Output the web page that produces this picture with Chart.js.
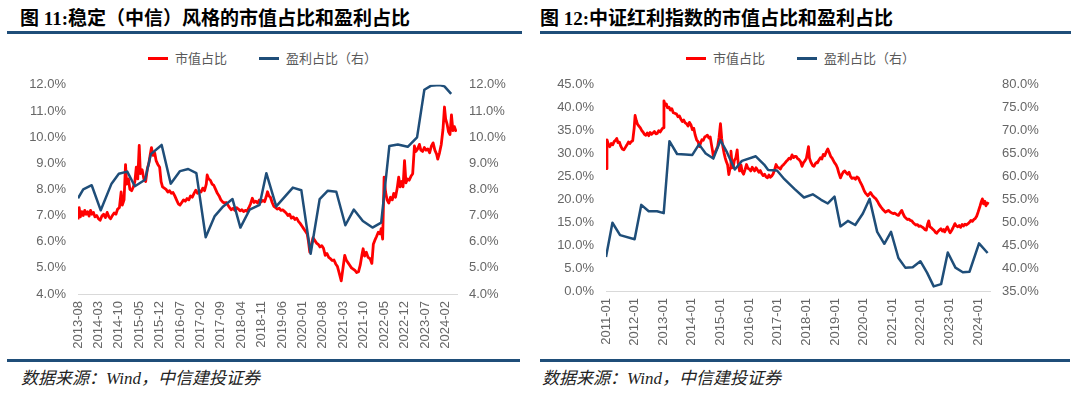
<!DOCTYPE html>
<html>
<head>
<meta charset="utf-8">
<script src="https://cdn.jsdelivr.net/npm/chart.js@4.4.1/dist/chart.umd.min.js"></script>
<style>
  body { margin: 0; width: 1080px; height: 396px; background: #fff; position: relative; overflow: hidden; }
  .title { position: absolute; top: 8px; font: bold 19px/22px "Liberation Serif", "Noto Sans CJK SC"; color: #000; white-space: nowrap; }
  .rule { position: absolute; height: 3px; background: #1f4e79; }
  .src { position: absolute; top: 369px; font: italic 17px/20px "Liberation Serif", "Noto Sans CJK SC"; color: #222; white-space: nowrap; }
  .legend { position: absolute; top: 49px; font: 13px/18px "Noto Sans CJK SC"; color: #595959; display: flex; align-items: center; white-space: nowrap; }
  .legend i { display: inline-block; width: 20px; height: 3px; margin-right: 7px; }
  .legend span { margin-right: 32px; }
  canvas { position: absolute; }
</style>
</head>
<body>
<div class="title" style="left:20px">图 11:稳定（中信）风格的市值占比和盈利占比</div>
<div class="title" style="left:540px">图 12:中证红利指数的市值占比和盈利占比</div>
<div class="rule" style="left:7px;width:515px;top:31px"></div>
<div class="rule" style="left:540px;width:531px;top:31px"></div>

<div class="legend" id="legL" style="left:148px"></div>
<div class="legend" id="legR" style="left:686px"></div>

<canvas id="cL" width="530" height="289" style="left:0;top:65px"></canvas>
<canvas id="cR" width="540" height="286" style="left:540px;top:65px"></canvas>

<div class="rule" style="left:7px;width:513px;top:359px"></div>
<div class="rule" style="left:540px;width:530px;top:359px"></div>
<div class="src" style="left:21px">数据来源：Wind，中信建投证券</div>
<div class="src" style="left:542px">数据来源：Wind，中信建投证券</div>

<script>
// ---- data: x = months since first tick label ----
const seriesNames = ["市值占比", "盈利占比（右）"];

const leftTickLabels = ["2013-08", "2014-03", "2014-10", "2015-05", "2015-12", "2016-07", "2017-02",
  "2017-09", "2018-04", "2018-11", "2019-06", "2020-01", "2020-08", "2021-03", "2021-10", "2022-05",
  "2022-12", "2023-07", "2024-02"];
const leftTickStep = 7;

const rightTickLabels = ["2011-01", "2012-01", "2013-01", "2014-01", "2015-01", "2016-01", "2017-01",
  "2018-01", "2019-01", "2020-01", "2021-01", "2022-01", "2023-01", "2024-01"];
const rightTickStep = 12;

// 稳定（中信）市值占比, %
const leftCap = [
  [0,6.85],[0.4,7.3],[0.8,6.95],[1.3,7.15],[1.8,7.0],[2.3,7.2],[2.8,7.05],[3.3,7.15],[3.8,6.98],[4.3,7.2],
  [4.8,7.05],[5.3,7.12],[5.8,6.95],[6.4,7.0],[7.0,6.88],[7.6,6.82],[8.2,6.98],[8.8,7.05],[9.4,6.92],[10.0,7.12],
  [10.6,6.95],[11.2,6.88],[11.8,7.0],[12.4,7.1],[13.0,7.05],[13.6,7.25],[14.2,7.3],[14.8,7.9],[15.2,7.4],[15.8,7.6],
  [16.3,8.95],[16.7,8.2],[17.3,8.4],[17.8,8.0],[18.4,7.95],[19.0,8.1],[19.5,8.3],[20.0,8.85],[20.5,8.4],[21.0,9.68],
  [21.4,8.6],[22.0,8.75],[22.6,8.4],[23.2,8.3],[23.8,8.8],[24.3,9.0],[24.8,9.35],[25.2,9.6],[25.7,9.3],[26.3,9.4],
  [26.8,9.1],[27.4,8.95],[28.0,8.85],[28.5,8.3],[29.0,8.1],[29.6,8.05],[30.2,8.0],[30.8,7.9],[31.4,7.95],[32.0,7.85],
  [32.6,7.88],[33.2,7.75],[33.8,7.6],[34.4,7.45],[35.0,7.4],[35.6,7.5],[36.2,7.6],[36.8,7.55],[37.4,7.65],[38.0,7.6],
  [38.6,7.75],[39.2,7.7],[39.8,7.85],[40.4,7.97],[41.0,7.85],[41.6,7.95],[42.2,7.9],[42.8,8.05],[43.4,7.95],[44.0,8.2],
  [44.3,8.55],[44.8,8.4],[45.4,8.35],[46.0,8.2],[46.6,8.15],[47.2,8.0],[47.8,7.85],[48.4,7.75],[49.0,7.6],[49.6,7.52],
  [50.2,7.48],[50.8,7.5],[51.4,7.4],[52.0,7.3],[52.6,7.22],[53.2,7.28],[53.8,7.2],[54.4,7.3],[55.0,7.25],[55.6,7.18],
  [56.2,7.22],[56.8,7.15],[57.4,7.2],[58.0,7.16],[58.6,7.3],[59.2,7.45],[59.8,7.66],[60.4,7.5],[61.0,7.55],[61.6,7.48],
  [62.2,7.6],[62.8,7.52],[63.4,7.58],[64.0,7.53],[64.5,7.7],[65.0,7.91],[65.5,7.75],[66.0,7.7],[66.6,7.5],[67.2,7.35],
  [67.8,7.3],[68.4,7.25],[69.0,7.28],[69.6,7.2],[70.2,7.22],[70.8,7.16],[71.4,7.1],[72.0,7.0],[72.6,7.05],[73.2,6.9],
  [73.8,6.95],[74.4,6.85],[75.0,6.9],[75.6,6.78],[76.2,6.7],[76.8,6.6],[77.4,6.5],[78.0,6.4],[78.6,6.3],[79.0,6.05],
  [79.5,5.6],[80.0,5.85],[80.6,6.15],[81.2,6.05],[81.8,5.95],[82.4,5.9],[83.0,5.8],[83.6,5.85],[84.2,5.75],[84.8,5.48],
  [85.4,5.55],[86.0,5.4],[86.6,5.35],[87.2,5.28],[87.8,5.3],[88.4,5.15],[89.0,5.05],[89.6,4.8],[90.3,4.5],[90.9,5.0],
  [91.5,5.48],[92.0,5.3],[92.6,5.2],[93.2,5.1],[93.8,5.0],[94.4,4.95],[95.0,4.9],[95.6,4.82],[96.2,4.85],[96.8,5.1],
  [97.4,5.5],[97.8,5.73],[98.3,5.45],[98.9,5.6],[99.5,5.4],[100.2,5.35],[100.8,5.17],[101.3,5.9],[101.8,6.05],[102.4,6.2],
  [103.0,6.36],[103.6,6.3],[104.0,6.5],[104.5,6.1],[105.0,8.47],[105.5,7.9],[106.0,7.6],[106.6,7.48],[107.2,7.7],[107.8,7.6],
  [108.3,7.85],[108.9,7.7],[109.5,8.05],[110.0,8.47],[110.5,8.1],[111.0,8.3],[111.5,8.1],[112.0,9.1],[112.5,8.25],[113.0,8.4],
  [113.6,8.35],[114.2,8.5],[114.8,8.6],[115.4,9.66],[115.9,9.45],[116.5,9.55],[117.1,9.72],[117.6,9.5],[118.2,9.45],[118.8,9.6],
  [119.4,9.5],[120.0,9.55],[120.6,9.4],[121.2,9.65],[121.8,9.78],[122.4,9.5],[123.0,9.35],[123.4,9.16],[124.0,9.4],[124.6,9.72],
  [125.2,10.3],[125.7,11.15],[126.1,10.7],[126.6,10.5],[127.1,10.2],[127.6,10.1],[128.1,10.85],[128.6,10.25],[129.1,10.4],[129.7,10.2]
];

// 稳定（中信）盈利占比, %
const leftProfit = [
  [0,7.66],[1.8,8.0],[4.7,8.16],[7.8,7.2],[11.5,8.22],[14,8.6],[16.9,8.68],[19.5,8.12],[23,8.37],[25,9.35],
  [28.7,9.7],[31.8,8.22],[35,8.7],[37.8,8.78],[40.6,8.62],[43.8,6.17],[46.9,6.98],[49.8,7.35],[53,7.63],[55.7,6.54],
  [58.9,7.23],[62.3,7.41],[64.6,8.62],[68,7.35],[73.7,8.07],[76.6,7.97],[79.8,5.54],[82.9,7.63],[85.7,7.95],[88.6,7.91],
  [91.7,6.63],[94.6,7.23],[97.7,6.79],[101,6.54],[104,6.73],[106.8,9.66],[109.7,9.72],[113.1,9.63],[116.3,9.99],[118.8,11.81],
  [121,11.96],[124,11.99],[125.7,11.94],[128,11.65]
];

// 中证红利 市值占比, %
const rightCap = [
  [0,26.7],[0.4,33.0],[1.0,32.0],[1.6,31.5],[2.2,32.2],[2.8,31.9],[3.4,32.6],[4.0,32.9],[4.5,33.3],[5.0,32.4],
  [5.6,32.5],[6.2,31.6],[6.8,31.0],[7.5,30.8],[8.2,31.4],[8.8,31.9],[9.4,32.5],[10.0,32.2],[10.6,32.6],[11.2,32.8],
  [11.8,35.5],[12.2,38.3],[12.7,37.2],[13.2,36.4],[13.8,36.0],[14.4,35.6],[15.0,35.0],[15.5,34.7],[16.1,34.2],[16.7,34.0],
  [17.3,34.5],[17.9,33.9],[18.5,34.6],[19.1,34.2],[19.7,34.5],[20.3,34.8],[20.9,34.3],[21.5,34.4],[22.1,35.0],[22.7,34.7],
  [23.3,35.2],[23.9,35.6],[24.3,41.5],[24.8,40.5],[25.3,40.8],[25.8,40.0],[26.4,40.1],[27.0,39.5],[27.6,39.8],[28.2,38.9],
  [28.8,38.8],[29.6,38.6],[30.2,38.0],[30.8,38.2],[31.4,37.5],[32.0,37.0],[32.6,37.3],[33.2,36.7],[33.8,36.5],[34.4,36.0],
  [35.0,36.8],[35.6,36.3],[36.2,35.2],[36.8,35.5],[37.4,34.0],[38.0,33.0],[38.6,32.6],[39.2,31.5],[39.6,32.2],[40.2,33.0],
  [40.8,32.9],[41.4,33.6],[42.0,33.8],[42.5,34.0],[43.1,33.4],[43.7,33.6],[44.2,32.0],[44.6,30.8],[45.0,29.4],[45.6,30.2],
  [46.2,30.8],[46.8,31.5],[47.4,33.5],[48.0,36.5],[48.5,33.3],[49.0,31.5],[49.5,30.1],[50.0,29.0],[50.4,28.3],[51.0,27.5],
  [51.5,25.4],[52.0,26.8],[52.4,30.5],[52.8,28.0],[53.3,26.9],[53.8,28.5],[54.4,29.0],[55.0,30.8],[55.4,28.0],[56.0,26.2],
  [56.6,27.5],[57.1,26.0],[57.7,25.5],[58.3,26.5],[58.9,27.6],[59.5,26.8],[60.1,26.6],[60.7,26.2],[61.3,27.0],[61.9,26.5],
  [62.3,26.2],[62.9,26.9],[63.5,26.4],[64.1,25.9],[64.7,26.3],[65.3,25.6],[65.9,25.2],[66.5,25.5],[67.1,24.9],[67.7,24.7],
  [68.3,25.3],[68.9,24.8],[69.5,25.1],[70.1,25.6],[70.7,26.5],[71.3,27.6],[71.9,27.0],[72.5,26.9],[73.1,26.6],[73.7,27.2],
  [74.3,27.5],[75.0,27.9],[75.6,28.3],[76.2,28.6],[76.8,29.0],[77.4,28.8],[78.0,29.7],[78.6,29.1],[79.2,29.4],[79.7,29.4],
  [80.3,28.9],[80.9,28.7],[81.6,28.2],[82.2,27.2],[82.8,28.0],[83.4,28.4],[84.0,28.9],[84.9,31.5],[85.3,29.0],[86.0,28.0],
  [86.6,27.4],[87.2,27.2],[87.8,27.8],[88.4,28.1],[88.7,28.0],[89.3,28.6],[89.9,29.1],[90.5,28.8],[91.1,29.8],[91.7,29.5],
  [92.3,30.3],[93.0,31.0],[93.6,30.2],[94.2,29.4],[94.8,29.0],[95.4,28.4],[95.8,28.0],[96.4,27.6],[97.0,26.9],[97.6,25.8],
  [98.3,24.7],[98.9,25.4],[99.5,26.0],[100.1,26.2],[100.7,25.8],[101.3,25.5],[101.9,25.9],[102.5,25.0],[103.1,24.6],[104.0,24.7],
  [104.6,24.4],[105.2,24.9],[105.8,24.7],[106.4,24.0],[107.0,23.4],[107.7,22.6],[108.3,21.8],[108.9,21.3],[109.8,20.8],[110.4,21.2],
  [110.9,21.5],[111.5,21.0],[112.1,20.6],[112.7,20.3],[113.2,20.1],[113.8,19.6],[114.5,18.9],[115.3,18.3],[115.9,17.9],[116.6,17.5],
  [117.2,17.2],[117.8,17.4],[118.4,17.6],[119.0,17.3],[119.6,17.1],[120.4,16.9],[121.0,17.0],[121.8,16.7],[122.6,16.5],[123.2,17.0],
  [124.0,17.6],[124.6,16.8],[125.2,16.2],[125.8,15.9],[126.4,15.6],[127.0,15.7],[127.6,15.4],[128.2,15.3],[128.8,14.9],[129.4,14.6],
  [130.0,14.4],[130.6,14.5],[131.2,14.1],[131.8,14.2],[132.4,14.0],[133.0,13.8],[133.7,13.4],[134.3,13.3],[134.9,14.7],[135.3,15.3],
  [135.8,14.0],[136.4,13.8],[137.0,13.5],[137.6,13.2],[138.1,12.8],[138.6,12.6],[139.2,13.0],[139.8,13.3],[140.4,13.6],[141.0,13.1],
  [141.6,13.4],[142.0,12.9],[142.6,13.5],[143.1,14.0],[143.7,13.3],[144.3,12.7],[144.9,13.2],[145.5,13.8],[146.3,14.7],[146.9,14.2],
  [147.5,14.0],[148.1,14.3],[148.7,13.9],[149.3,14.5],[149.9,14.2],[150.5,14.6],[151.1,14.4],[151.8,14.7],[152.4,15.0],[153.0,15.4],
  [153.6,15.2],[154.2,15.6],[154.8,15.8],[155.4,16.3],[156.0,17.2],[156.8,18.5],[157.3,19.4],[157.8,20.1],[158.3,19.0],[158.8,19.6],
  [159.3,18.6],[159.8,19.2],[160.5,19.0]
];

// 中证红利 盈利占比, % (right axis)
const rightProfit = [
  [0,42.4],[2.7,49.9],[5.9,47.2],[12,46.3],[14.8,53.8],[17.9,52.4],[21.4,52.4],[24.2,52.0],[26.6,67.7],[29.8,64.9],
  [33.3,64.8],[36.2,64.7],[39,67.0],[41.8,65.0],[45,63.9],[48,67.9],[50.7,65.3],[54,61.5],[57,63.4],[62.8,64.4],
  [66.3,62.6],[68,61.4],[71.7,61.3],[74.8,59.4],[79,57.3],[83,55.4],[86.7,56.1],[90.2,54.9],[93,54.1],[95.8,55.6],
  [98.3,49.1],[101.4,50.3],[104.5,49.4],[107.7,51.9],[110.5,55.1],[113.7,47.9],[116.7,45.3],[119.5,47.9],[122.6,42.2],[125.5,40.1],
  [128.6,40.2],[131.8,41.5],[134.6,39.0],[137.4,36.0],[140.5,36.5],[143.3,43.4],[146.5,40.1],[149.6,39.1],[152.4,39.2],[156.4,45.4],
  [160,43.3]
];

const RED = "#ff0000";
const BLUE = "#1f4e79";
const colors = [RED, BLUE];
const tickColor = "#666666";
const tickFont = { family: '"Liberation Sans", Arial, sans-serif', size: 13 };

// html legends
["legL", "legR"].forEach((id) => {
  const el = document.getElementById(id);
  seriesNames.forEach((n, i) => {
    el.insertAdjacentHTML("beforeend", `<i style="background:${colors[i]}"></i><span>${n}</span>`);
  });
});

const pts = (arr) => arr.map((p) => ({ x: p[0], y: p[1] }));
const pct = (v) => v.toFixed(1) + "%";

function yAxis(pos, min, max, step, width) {
  return {
    position: pos,
    min: min,
    max: max,
    ticks: { stepSize: step, callback: pct, color: tickColor, font: tickFont, padding: 12 },
    grid: { display: false, drawTicks: false },
    border: { display: false },
    afterFit: (s) => { s.width = width; },
  };
}

function makeChart(id, opt) {
  return new Chart(document.getElementById(id), {
    type: "line",
    data: {
      datasets: [
        { label: seriesNames[0], data: pts(opt.cap), yAxisID: "yL", borderColor: RED, borderWidth: 2.8, order: 1 },
        { label: seriesNames[1], data: pts(opt.profit), yAxisID: opt.profitAxis, borderColor: BLUE, borderWidth: 2.5, order: 0 },
      ],
    },
    options: {
      responsive: false,
      animation: false,
      devicePixelRatio: 1,
      layout: { padding: { top: opt.top, left: 0, right: 0, bottom: 0 } },
      elements: { point: { radius: 0 }, line: { tension: 0, borderJoinStyle: "round" } },
      plugins: { legend: { display: false }, tooltip: { enabled: false } },
      scales: {
        x: {
          type: "linear",
          min: 0,
          max: opt.xMax,
          afterBuildTicks: (s) => { s.ticks = opt.labels.map((_, i) => ({ value: i * opt.step })); },
          afterFit: (s) => { s.height = 60; },
          ticks: {
            autoSkip: false, minRotation: 90, maxRotation: 90, padding: 7,
            color: tickColor, font: tickFont,
            callback: (v, i) => opt.labels[i],
          },
          grid: { display: false, drawTicks: false },
          border: { display: true, color: "#d9d9d9", width: 1 },
        },
        yL: yAxis("left", opt.yL[0], opt.yL[1], opt.yL[2], opt.leftW),
        yR: yAxis("right", opt.yR[0], opt.yR[1], opt.yR[2], opt.rightW),
      },
    },
  });
}

makeChart("cL", {
  cap: leftCap, profit: leftProfit, profitAxis: "yR",
  labels: leftTickLabels, step: leftTickStep, xMax: 130,
  yL: [4, 12, 1], yR: [4, 12, 1], leftW: 78, rightW: 73, top: 14,
});

makeChart("cR", {
  cap: rightCap, profit: rightProfit, profitAxis: "yR",
  labels: rightTickLabels, step: rightTickStep, xMax: 161,
  yL: [0, 45, 5], yR: [35, 80, 5], leftW: 66, rightW: 90, top: 16,
});
</script>
</body>
</html>
